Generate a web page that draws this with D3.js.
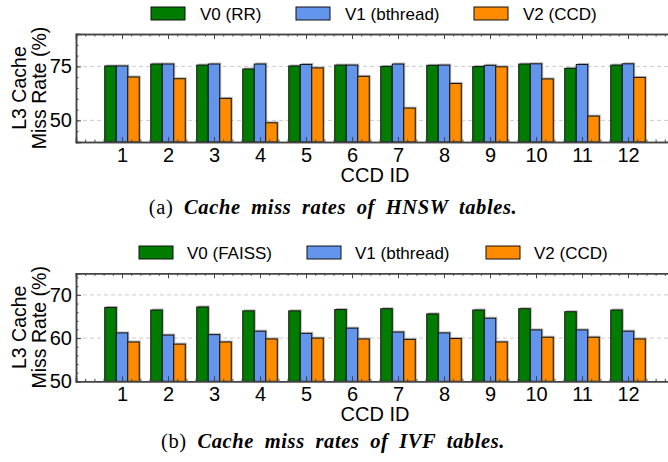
<!DOCTYPE html>
<html>
<head>
<meta charset="utf-8">
<script src="https://cdn.jsdelivr.net/npm/d3@7"></script>
<style>
  body { margin: 0; background: #fff; }
  svg { display: block; }
</style>
</head>
<body>
<svg id="chart" width="668" height="462"></svg>
<script>
///// *** DATA *** /////
var ccdIds = [1, 2, 3, 4, 5, 6, 7, 8, 9, 10, 11, 12];

// (a) HNSW
var hnswNames = ['V0 (RR)', 'V1 (bthread)', 'V2 (CCD)'];
var hnswV0 = [75.2, 76.1, 75.6, 73.8, 75.2, 75.6, 75.0, 75.5, 74.9, 76.1, 74.1, 75.6];
var hnswV1 = [75.2, 76.1, 76.1, 76.1, 75.9, 75.6, 76.1, 75.6, 75.5, 76.2, 75.9, 76.2];
var hnswV2 = [70.1, 69.3, 60.2, 48.9, 74.3, 70.4, 55.7, 67.1, 74.8, 69.2, 52.0, 69.9];
var hnswTicks = [50, 75];

// (b) IVF
var ivfNames = ['V0 (FAISS)', 'V1 (bthread)', 'V2 (CCD)'];
var ivfV0 = [67.1, 66.5, 67.2, 66.3, 66.3, 66.6, 66.8, 65.6, 66.5, 66.8, 66.1, 66.5];
var ivfV1 = [61.2, 60.7, 60.8, 61.6, 61.1, 62.3, 61.4, 61.2, 64.6, 61.9, 61.9, 61.6];
var ivfV2 = [59.1, 58.6, 59.1, 59.8, 60.0, 59.8, 59.7, 59.9, 59.1, 60.2, 60.2, 59.8];
var ivfTicks = [50, 60, 70];

var colors = ['#007d00', '#6495ed', '#ff8c00'];
var sans = 'Liberation Sans, Arial, sans-serif';

///// *** DRAW *** /////
var svg = d3.select('#chart');

drawPanel({
  top: 34, bottom: 142,
  yDomain: [40, 90], yTicks: hnswTicks, yMinor: 5,
  series: [hnswV0, hnswV1, hnswV2], names: hnswNames,
  legendY: 13.5, legendX: [151, 296, 474], legendGap: 49,
  caption: 'Cache miss rates of HNSW tables.', capTag: '(a) ', capY: 214
});

drawPanel({
  top: 273.3, bottom: 381.3,
  yDomain: [50, 75], yTicks: ivfTicks, yMinor: 2,
  series: [ivfV0, ivfV1, ivfV2], names: ivfNames,
  legendY: 252.5, legendX: [139, 307, 486], legendGap: 48,
  caption: 'Cache miss rates of IVF tables.', capTag: '(b) ', capY: 448
});

function drawPanel(p){
  var g = svg.append('g');
  var x = d3.scaleLinear().domain([0, 13]).range([76, 674]);
  var y = d3.scaleLinear().domain(p.yDomain).range([p.bottom, p.top]);
  var bw = 11.5;

  //grid
  g.selectAll('.grid').data(p.yTicks).enter().append('line')
    .attr('x1', x(0)).attr('x2', x(13))
    .attr('y1', function(d){ return y(d); })
    .attr('y2', function(d){ return y(d); })
    .attr('stroke', '#ccc').attr('stroke-width', 1)
    .attr('stroke-dasharray', '4,3');

  //bars, shadow first
  p.series.forEach(function(vals, s){
    var off = (s - 1) * bw;
    g.selectAll('.sh' + s).data(vals).enter().append('rect')
      .attr('x', function(d, i){ return x(ccdIds[i]) + off - bw / 2 + 1.5; })
      .attr('y', function(d){ return y(d) - 1.5; })
      .attr('width', bw)
      .attr('height', function(d){ return p.bottom - y(d); })
      .attr('fill', '#999').attr('opacity', 0.7);
  });
  p.series.forEach(function(vals, s){
    var off = (s - 1) * bw;
    g.selectAll('.bar' + s).data(vals).enter().append('rect')
      .attr('x', function(d, i){ return x(ccdIds[i]) + off - bw / 2; })
      .attr('y', function(d){ return y(d); })
      .attr('width', bw)
      .attr('height', function(d){ return p.bottom - y(d); })
      .attr('fill', colors[s])
      .attr('stroke', '#111').attr('stroke-width', 1);
  });

  //axes with inward ticks
  g.append('g').attr('transform', 'translate(0,' + p.bottom + ')')
    .call(d3.axisBottom(x).tickValues(ccdIds).tickSize(-5).tickPadding(6).tickFormat(d3.format('d')));
  var minorX = d3.range(0, 13.01, 0.2);
  g.append('g').attr('transform', 'translate(0,' + p.bottom + ')')
    .call(d3.axisBottom(x).tickValues(minorX).tickSize(-2.5).tickFormat(''));
  g.append('g').attr('transform', 'translate(0,' + p.top + ')')
    .call(d3.axisTop(x).tickValues(ccdIds).tickSize(-5).tickFormat(''));
  g.append('g').attr('transform', 'translate(0,' + p.top + ')')
    .call(d3.axisTop(x).tickValues(minorX).tickSize(-2.5).tickFormat(''));

  g.append('g').attr('transform', 'translate(' + x(0) + ',0)')
    .call(d3.axisLeft(y).tickValues(p.yTicks).tickSize(-5).tickPadding(4));
  var minorY = d3.range(p.yDomain[0], p.yDomain[1] + 0.01, p.yMinor);
  g.append('g').attr('transform', 'translate(' + x(0) + ',0)')
    .call(d3.axisLeft(y).tickValues(minorY).tickSize(-2.5).tickFormat(''));

  g.selectAll('.domain').attr('stroke', '#444').attr('stroke-width', 1.5);
  g.selectAll('.tick line').attr('stroke', '#444');
  g.selectAll('.tick text').attr('font-family', sans)
    .attr('font-size', 20).attr('fill', '#000');

  //right spine
  g.append('line').attr('x1', x(13)).attr('x2', x(13))
    .attr('y1', p.top).attr('y2', p.bottom).attr('stroke', '#444').attr('stroke-width', 1.5);

  //axis titles
  var cy = (p.top + p.bottom) / 2;
  var yl = g.append('text')
    .attr('transform', 'translate(26,' + cy + ') rotate(-90)')
    .attr('text-anchor', 'middle')
    .attr('font-family', sans)
    .attr('font-size', 19.5);
  yl.append('tspan').attr('x', 0).attr('dy', 0).text('L3 Cache');
  yl.append('tspan').attr('x', 0).attr('dy', 19.5).text('Miss Rate (%)');

  g.append('text').attr('x', x(6.5)).attr('y', p.bottom + 40)
    .attr('text-anchor', 'middle')
    .attr('font-family', sans)
    .attr('font-size', 20).text('CCD ID');

  //legend
  p.names.forEach(function(n, s){
    g.append('rect').attr('x', p.legendX[s]).attr('y', p.legendY - 6.5)
      .attr('width', 34).attr('height', 13)
      .attr('fill', colors[s]).attr('stroke', '#111').attr('stroke-width', 1);
    g.append('text').attr('x', p.legendX[s] + p.legendGap).attr('y', p.legendY + 6)
      .attr('font-family', sans)
      .attr('font-size', 17).text(n);
  });

  //caption
  var cap = g.append('text').attr('x', 333).attr('y', p.capY)
    .attr('text-anchor', 'middle')
    .attr('font-family', 'Liberation Serif, Times New Roman, serif')
    .attr('font-size', 20.5).attr('letter-spacing', 0.6).attr('word-spacing', 5);
  cap.append('tspan').text(p.capTag);
  cap.append('tspan').attr('font-weight', 'bold').attr('font-style', 'italic').text(p.caption);
}
</script>
</body>
</html>
